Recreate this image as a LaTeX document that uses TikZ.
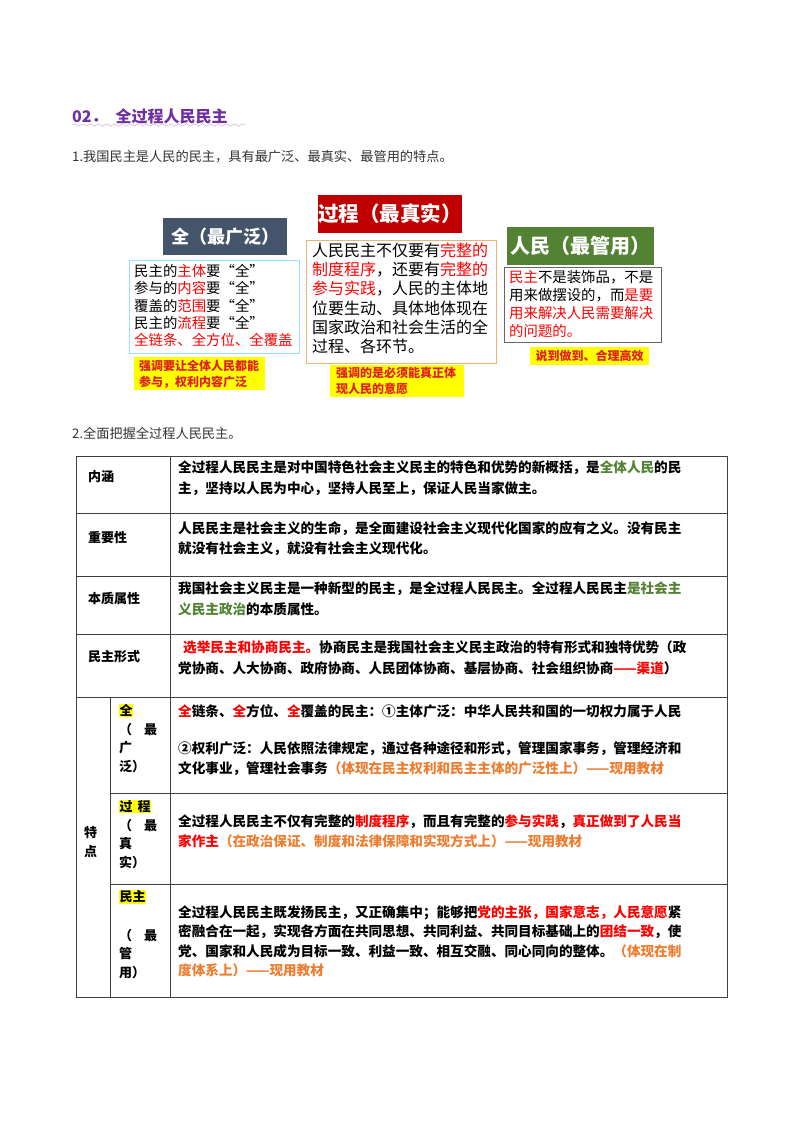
\documentclass[tikz,border=0pt]{standalone}
\usepackage{fontspec}
\setmainfont{Noto Sans CJK SC}
\usetikzlibrary{decorations.pathmorphing}
\definecolor{rd}{HTML}{FF0000}
\definecolor{drd}{HTML}{E02020}
\definecolor{grn}{HTML}{548235}
\definecolor{org}{HTML}{ED7D31}
\definecolor{pur}{HTML}{7030A0}
\definecolor{hblue}{HTML}{44546A}
\definecolor{hred}{HTML}{C00000}
\definecolor{hgrn}{HTML}{548235}
\definecolor{yel}{HTML}{FFFF00}
\tikzset{
 txt/.style={anchor=north west,inner sep=0pt,align=left},
 hdr/.style={inner sep=0pt,text=white,font=\bfseries\fontsize{17}{20}\selectfont},
 tline/.style={line width=0.8pt,draw=black!75},
 ybox/.style={fill=yel,draw=none},
 tb/.style={txt,font=\bfseries\fontsize{13.6}{20.5}\selectfont},
 lab/.style={anchor=west,inner sep=0pt,font=\bfseries\fontsize{13}{16}\selectfont},
}
\newcommand{\R}[1]{\textcolor{rd}{#1}}
\newcommand{\G}[1]{\textcolor{grn}{#1}}
\newcommand{\Or}[1]{\textcolor{org}{#1}}
\begin{document}
\begin{tikzpicture}[x=1pt,y=-1pt]
\useasboundingbox[fill=white] (0,0) rectangle (800,1132);
% title
\node[anchor=west,inner sep=0pt,text=pur,font=\bfseries\fontsize{16}{18}\selectfont] (title) at (72,116) {02．\hspace{8pt}全过程人民民主};
\draw[pur!45,decorate,decoration={snake,amplitude=1.2pt,segment length=8pt}] (72,125) -- (245,125);
\node[anchor=west,inner sep=0pt,font=\fontsize{13.2}{16}\selectfont,text=black!80] (p1) at (72,157) {1.我国民主是人民的民主，具有最广泛、最真实、最管用的特点。};
% top figure
\node[hdr,fill=hblue,minimum width=124pt,minimum height=37pt,font=\bfseries\fontsize{18}{20}\selectfont] (h1) at (225,236.5) {全（最广泛）};
\node[hdr,fill=hred,minimum width=142pt,minimum height=38pt,font=\bfseries\fontsize{20.5}{22}\selectfont] (h2) at (390,214) {过程（最真实）};
\node[hdr,fill=hgrn,minimum width=147pt,minimum height=38pt,font=\bfseries\fontsize{20}{22}\selectfont] (h3) at (580.5,246) {人民（最管用）};
\draw[draw=blue!30!cyan!40,line width=0.8pt] (129,260) rectangle (299,353);
\node[txt,font=\fontsize{14.4}{17.3}\selectfont] (b1) at (134,264) {民主的\R{主体}要“全”\\参与的\R{内容}要“全”\\覆盖的\R{范围}要“全”\\民主的\R{流程}要“全”\\\R{全链条、全方位、全覆盖}};
\draw[draw=orange!60!brown!60,line width=0.8pt] (306,240) rectangle (496,363);
\node[txt,font=\fontsize{16}{19.1}\selectfont] (b2) at (312,243) {人民民主不仅要有\R{完整的}\\\R{制度程序}，还要有\R{完整的}\\\R{参与实践}，人民的主体地\\位要生动、具体地体现在\\国家政治和社会生活的全\\过程、各环节。};
\draw[draw=black!60,line width=0.8pt] (504,267) rectangle (661,342);
\node[txt,font=\fontsize{14.4}{18}\selectfont] (b3) at (509,270) {\R{民主}不是装饰品，不是\\用来做摆设的，而\R{是要}\\\R{用来解决人民需要解决}\\\R{的问题的。}};
\node[ybox,minimum width=131pt,minimum height=33pt] (y1) at (199.5,373.5) {};
\node[txt,font=\bfseries\fontsize{12}{15.5}\selectfont,text=drd] (y1t) at (139,360) {强调要让全体人民都能\\参与，权利内容广泛};
\node[ybox,minimum width=134pt,minimum height=32pt] (y2) at (397,381) {};
\node[txt,font=\bfseries\fontsize{12}{15.5}\selectfont,text=drd] (y2t) at (336,367) {强调的是必须能真正体\\现人民的意愿};
\node[ybox,minimum width=119pt,minimum height=18pt] (y3) at (589.5,356) {};
\node[anchor=center,inner sep=0pt,font=\bfseries\fontsize{12}{15}\selectfont,text=drd] (y3t) at (589.5,356) {说到做到、合理高效};
% section 2
\node[anchor=west,inner sep=0pt,font=\fontsize{13.2}{16}\selectfont,text=black!80] (p2) at (72,433) {2.全面把握全过程人民民主。};
% table lines
\draw[tline] (76,456) rectangle (727,997);
\draw[tline] (76,513) -- (727,513);
\draw[tline] (76,576) -- (727,576);
\draw[tline] (76,634) -- (727,634);
\draw[tline] (76,697) -- (727,697);
\draw[tline] (110,793) -- (727,793);
\draw[tline] (110,884) -- (727,884);
\draw[tline] (170,456) -- (170,997);
\draw[tline] (110,697) -- (110,997);
% labels
\node[lab] (l1) at (88,477) {内涵};
\node[lab] (l2) at (88,538) {重要性};
\node[lab] (l3) at (88,598) {本质属性};
\node[lab] (l4) at (88,657) {民主形式};
\node[txt,font=\bfseries\fontsize{13}{19}\selectfont] (l5) at (84,826) {特\\点};
\node[txt,font=\bfseries\fontsize{13}{18.5}\selectfont] (s1) at (119,704) {\fboxsep=0.5pt\colorbox{yel}{全}\\（\hspace{12pt}最\\广\\泛）};
\node[txt,font=\bfseries\fontsize{13}{18.5}\selectfont] (s2) at (119,800) {\fboxsep=0.5pt\colorbox{yel}{过\hspace{5pt}程}\\（\hspace{12pt}最\\真\\实）};
\node[txt,font=\bfseries\fontsize{13}{18.5}\selectfont] (s3) at (119,890) {\fboxsep=0.5pt\colorbox{yel}{民主}\\[20pt]（\hspace{12pt}最\\管\\用）};
% contents
\node[tb] (c1) at (178,461) {全过程人民民主是对中国特色社会主义民主的特色和优势的新概括，是\G{全体人民}的民\\主，坚持以人民为中心，坚持人民至上，保证人民当家做主。};
\node[tb] (c2) at (178,521) {人民民主是社会主义的生命，是全面建设社会主义现代化国家的应有之义。没有民主\\就没有社会主义，就没有社会主义现代化。};
\node[tb] (c3) at (178,582) {我国社会主义民主是一种新型的民主，是全过程人民民主。全过程人民民主\G{是社会主}\\\G{义民主政治}的本质属性。};
\node[tb] (c4) at (178,641) {\hspace{5pt}\R{选举民主和协商民主。}协商民主是我国社会主义民主政治的特有形式和独特优势（政\\党协商、人大协商、政府协商、人民团体协商、基层协商、社会组织协商\R{——渠道}）};
\node[tb] (c5a) at (178,704) {\R{全}链条、\R{全}方位、\R{全}覆盖的民主：①主体广泛：中华人民共和国的一切权力属于人民};
\node[tb] (c5b) at (178,741) {②权利广泛：人民依照法律规定，通过各种途径和形式，管理国家事务，管理经济和\\文化事业，管理社会事务\Or{（体现在民主权利和民主主体的广泛性上）——现用教材}};
\node[tb] (c6) at (178,814) {全过程人民民主不仅有完整的\R{制度程序}，而且有完整的\R{参与实践}，\R{真正做到了人民当}\\\R{家作主}\Or{（在政治保证、制度和法律保障和实现方式上）——现用教材}};
\node[tb,font=\bfseries\fontsize{13.6}{19.5}\selectfont] (c7) at (178,905) {全过程人民民主既发扬民主，又正确集中；能够把\R{党的主张，国家意志，人民意愿}紧\\密融合在一起，实现各方面在共同思想、共同利益、共同目标基础上的\R{团结一致}，使\\党、国家和人民成为目标一致、利益一致、相互交融、同心同向的整体。\Or{（体现在制}\\\Or{度体系上）——现用教材}};
\end{tikzpicture}
\end{document}
